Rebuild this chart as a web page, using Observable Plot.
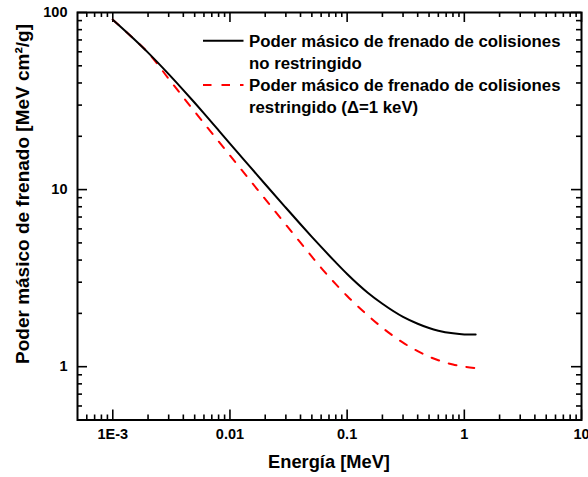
<!DOCTYPE html>
<html>
<head>
<meta charset="utf-8">
<script src="https://cdn.jsdelivr.net/npm/d3@7"></script>
<script src="https://cdn.jsdelivr.net/npm/@observablehq/plot@0.6"></script>
<style>
  html, body { margin: 0; padding: 0; background: #fff; overflow: hidden; }
  #chart { width: 588px; height: 477px; }
</style>
</head>
<body>
<div id="chart"></div>
<script>
// Electron energy (MeV)
const energy = [0.001, 0.0015, 0.002, 0.003, 0.004, 0.005, 0.006, 0.008, 0.01, 0.015,
  0.02, 0.03, 0.04, 0.05, 0.06, 0.08, 0.1, 0.15, 0.2, 0.3, 0.4, 0.5, 0.6, 0.8, 1.0, 1.25];
// Unrestricted collision mass stopping power (MeV cm2/g)
const unrestricted = [91, 71.3, 59.35, 44.86, 36.48, 30.93, 26.97, 21.61, 18.16, 13.35,
  10.72, 7.90, 6.37, 5.41, 4.745, 3.879, 3.337, 2.616, 2.266, 1.911, 1.748, 1.653, 1.597, 1.543, 1.522, 1.519];
// Restricted collision mass stopping power, Δ = 1 keV (MeV cm2/g)
const restricted = [91, 71.3, 59.35, 42.23, 33.16, 27.55, 23.69, 18.71, 15.58, 11.17,
  8.83, 6.33, 5.013, 4.184, 3.616, 2.924, 2.506, 1.949, 1.659, 1.366, 1.224, 1.140, 1.087, 1.029, 1.000, 0.982];

const xMajor = [0.001, 0.01, 0.1, 1, 10];
const xMajorLabels = ["1E-3", "0.01", "0.1", "1", "10"];
const yMajor = [1, 10, 100];
const yMajorLabels = ["1", "10", "100"];

const xTitle = "Energía [MeV]";
const yTitle = "Poder másico de frenado [MeV cm²/g]";
const legendLabels = [
  ["Poder másico de frenado de colisiones", "no restringido"],
  ["Poder másico de frenado de colisiones", "restringido (Δ=1 keV)"]
];

const W = 588, H = 477;
const mL = 77, mR = 7, mT = 12, mB = 57.5;
const innerW = W - mL - mR, innerH = H - mT - mB;
const font = "'Liberation Sans', Arial, Helvetica, sans-serif";

// minor ticks: 2..9 within each decade
const xMinor = [6e-4, 7e-4, 8e-4, 9e-4];
for (let e = -3; e <= 0; e++) for (let m = 2; m <= 9; m++) xMinor.push(m * 10 ** e);
const yMinor = [0.6, 0.7, 0.8, 0.9];
for (let e = 0; e <= 1; e++) for (let m = 2; m <= 9; m++) yMinor.push(m * 10 ** e);

const rows = energy.map((E, i) => ({E, u: unrestricted[i], r: restricted[i]}));

const majLen = 10, minLen = 5, tickW = 1.6;

const plot = Plot.plot({
  width: W, height: H,
  marginLeft: mL, marginRight: mR, marginTop: mT, marginBottom: mB,
  style: {fontFamily: font, background: "#fff", overflow: "hidden"},
  x: {type: "log", domain: [5e-4, 10], axis: null},
  y: {type: "log", domain: [0.5, 100], axis: null},
  marks: [
    // inward ticks on all four sides
    Plot.ruleX(xMajor, {x: d => d, insetTop: innerH - majLen, strokeWidth: tickW}),
    Plot.ruleX(xMajor, {x: d => d, insetBottom: innerH - majLen, strokeWidth: tickW}),
    Plot.ruleX(xMinor, {x: d => d, insetTop: innerH - minLen, strokeWidth: tickW}),
    Plot.ruleX(xMinor, {x: d => d, insetBottom: innerH - minLen, strokeWidth: tickW}),
    Plot.ruleY(yMajor, {y: d => d, insetRight: innerW - majLen, strokeWidth: tickW}),
    Plot.ruleY(yMajor, {y: d => d, insetLeft: innerW - majLen, strokeWidth: tickW}),
    Plot.ruleY(yMinor, {y: d => d, insetRight: innerW - minLen, strokeWidth: tickW}),
    Plot.ruleY(yMinor, {y: d => d, insetLeft: innerW - minLen, strokeWidth: tickW}),
    // tick labels
    Plot.text(xMajor, {x: d => d, frameAnchor: "bottom", dy: 19, text: (d, i) => xMajorLabels[i],
      fontSize: 14.5, fontWeight: "bold", fill: "#000"}),
    Plot.text(yMajor, {y: d => d, frameAnchor: "left", dx: -10, textAnchor: "end", text: (d, i) => yMajorLabels[i],
      fontSize: 14.5, fontWeight: "bold", fill: "#000"}),
    // curves
    Plot.line(rows, {x: "E", y: "r", stroke: "#ff0000", strokeWidth: 2, strokeDasharray: "8,10", curve: "monotone-x"}),
    Plot.line(rows, {x: "E", y: "u", stroke: "#000", strokeWidth: 2, curve: "monotone-x"}),
    Plot.frame({stroke: "#000", strokeWidth: 2})
  ]
});

const svg = d3.select(plot);

// axis titles
svg.append("text")
  .attr("x", mL + innerW / 2).attr("y", 462).attr("dy", "0.35em")
  .attr("text-anchor", "middle").attr("font-family", font).attr("font-weight", "bold")
  .attr("font-size", 18.3).attr("fill", "#000").text(xTitle);
svg.append("text")
  .attr("transform", "translate(22,194) rotate(-90)").attr("dy", "0.35em")
  .attr("text-anchor", "middle").attr("font-family", font).attr("font-weight", "bold")
  .attr("font-size", 19).attr("fill", "#000").text(yTitle);

// legend box in the upper right of the frame
const lg = svg.append("g").attr("font-family", font).attr("font-weight", "bold")
  .attr("font-size", 16.8).attr("text-anchor", "start").attr("fill", "#000");
const styles = [{stroke: "#000", dash: null}, {stroke: "#ff0000", dash: "8.5,10"}];
legendLabels.forEach((lines, k) => {
  const y0 = 40.7 + k * 44.3;
  lg.append("line").attr("x1", 203).attr("x2", 243.5).attr("y1", y0).attr("y2", y0)
    .attr("stroke", styles[k].stroke).attr("stroke-width", 2)
    .attr("stroke-dasharray", styles[k].dash);
  lines.forEach((t, j) => {
    lg.append("text").attr("x", 249).attr("y", y0 + j * 22).attr("dy", "0.35em").text(t);
  });
});

document.getElementById("chart").appendChild(plot);
</script>
</body>
</html>
